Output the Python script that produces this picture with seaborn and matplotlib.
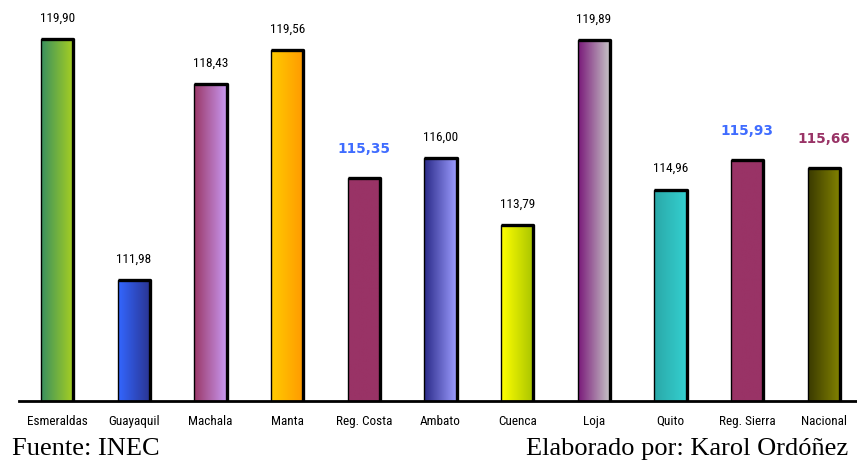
import numpy as np
import pandas as pd
import matplotlib
matplotlib.use("Agg")
import matplotlib.pyplot as plt
from matplotlib import font_manager
from matplotlib.colors import LinearSegmentedColormap
import seaborn as sns

# Índice por ciudad / región
categories = ["Esmeraldas", "Guayaquil", "Machala", "Manta", "Reg. Costa", "Ambato",
              "Cuenca", "Loja", "Quito", "Reg. Sierra", "Nacional"]
values = [119.90, 111.98, 118.43, 119.56, 115.35, 116.00, 113.79, 119.89, 114.96, 115.93, 115.66]

source_text = "Fuente: INEC"
author_text = "Elaborado por: Karol Ordóñez"

# Bar fills: (left colour, right colour) of each horizontal gradient
gradients = [
    ("#3a9060", "#a8d020"),
    ("#3366ff", "#2a3490"),
    ("#9a3868", "#c898f0"),
    ("#ffcc00", "#ff9900"),
    ("#993366", "#993366"),
    ("#2a2a88", "#9c9cff"),
    ("#ffff00", "#a8c400"),
    ("#7a1a7a", "#c8c8c8"),
    ("#2aa8a8", "#34d0d0"),
    ("#993366", "#993366"),
    ("#3a3a00", "#848400"),
]
highlight = {"Reg. Costa": "#3f6cff", "Reg. Sierra": "#3f6cff", "Nacional": "#993366"}


def pick_font(names, fallback="DejaVu Sans"):
    available = {f.name for f in font_manager.fontManager.ttflist}
    for n in names:
        if n in available:
            return n
    return fallback


narrow = pick_font(["Liberation Sans Narrow", "Roboto Condensed", "Liberation Sans"])
serif = pick_font(["Liberation Serif", "DejaVu Serif"])

sns.set_theme(style="white")
plt.rcParams["font.family"] = ["DejaVu Sans"]

fig = plt.figure(figsize=(8.57, 4.62), dpi=100)
fig.patch.set_facecolor("white")
ax = fig.add_axes([19 / 857, 61 / 462, 843 / 857, 401 / 462])

df = pd.DataFrame({"cat": categories, "val": values})
sns.barplot(data=df, x="cat", y="val", hue="cat", palette=["#ffffff"] * len(categories),
            legend=False, width=0.42, ax=ax, edgecolor="black", linewidth=1.0, saturation=1)

ymin, ymax = 108.0, 121.2
xlim = (-0.5, len(categories) - 0.5)

patches = sorted(ax.patches, key=lambda p: p.get_x())
for p, (c0, c1), name, v in zip(patches, gradients, categories, values):
    x0, w = p.get_x(), p.get_width()
    top = p.get_y() + p.get_height()
    cmap = LinearSegmentedColormap.from_list(name, [c0, c1])
    grad = np.linspace(0, 1, 64).reshape(1, -1)
    im = ax.imshow(grad, cmap=cmap, aspect="auto", extent=[x0, x0 + w, ymin, top],
                   origin="lower", zorder=1)
    im.set_clip_path(p)
    p.set_facecolor("none")
    p.set_zorder(2)
    # heavier top and right border
    ax.plot([x0, x0 + w, x0 + w], [top, top, ymin], color="black", lw=2.4,
            solid_capstyle="butt", zorder=3)

    label = f"{v:.2f}".replace(".", ",")
    if name in highlight:
        ax.annotate(label, xy=(x0 + w / 2, top), xytext=(0, 21), textcoords="offset points",
                    ha="center", va="center", fontsize=9.8, fontweight="bold",
                    color=highlight[name], family="DejaVu Sans")
    else:
        ax.annotate(label, xy=(x0 + w / 2, top), xytext=(0, 15), textcoords="offset points",
                    ha="center", va="center", fontsize=9.5, color="black", family=narrow)

ax.set_xlim(*xlim)
ax.set_ylim(ymin, ymax)

for s in ["left", "top", "right"]:
    ax.spines[s].set_visible(False)
ax.spines["bottom"].set_color("black")
ax.spines["bottom"].set_linewidth(2)
ax.set_yticks([])
ax.set_xlabel("")
ax.set_ylabel("")
ax.set_xticks(range(len(categories)))
ax.set_xticklabels(categories, family=narrow, fontsize=9.5, color="black")
ax.set_xticks(np.arange(-0.5, len(categories), 1.0), minor=True)
ax.tick_params(axis="x", which="major", length=0, pad=10)
ax.tick_params(axis="x", which="minor", length=4, width=1.5, color="black", direction="out")

fig.text(12 / 857, 1 - 449 / 462, source_text, family=serif, fontsize=19,
         ha="left", va="center", color="black")
fig.text(848 / 857, 1 - 449 / 462, author_text, family=serif, fontsize=19,
         ha="right", va="center", color="black")

fig.savefig("out.png", dpi=100, facecolor="white")
